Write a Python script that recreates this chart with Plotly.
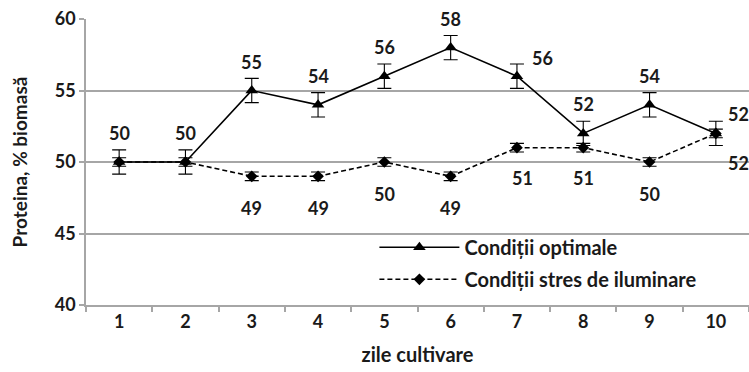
import plotly.graph_objects as go

days = ["1", "2", "3", "4", "5", "6", "7", "8", "9", "10"]
optimal = [50, 50, 55, 54, 56, 58, 56, 52, 54, 52]
stress = [50, 50, 49, 49, 50, 49, 51, 51, 50, 52]
optimal_err = [0.85] * 10
stress_err = [0.3] * 10

# data-label placement (pixels); stress labels of days 1-2 hidden (overlap in original)
opt_dx = [0, 0, 0, 0, 0, 0, 26, 0, 0, 23]
opt_dy = [29, 29, 29, 29, 29, 29, 18, 29, 29, 19]
str_dx = [0, 0, 0, 0, 0, 0, 6, 0, 0, 23]
str_dy = [-32, -32, -32, -32, -32, -32, -30, -30, -32, -30]
str_show = [False, False, True, True, True, True, True, True, True, True]

FONT = "Lato"
GRID = "#a6a6a6"
TXT = "#1a1a1a"

fig = go.Figure()
fig.add_trace(go.Scatter(
    x=days, y=optimal, mode="lines+markers", name="Condiții optimale", legendgroup="a",
    line=dict(color="black", width=1.6),
    marker=dict(symbol="triangle-up", size=11, color="black"),
    error_y=dict(type="data", array=optimal_err, color="black", thickness=1.1, width=7),
))
fig.add_trace(go.Scatter(
    x=days, y=stress, mode="lines+markers", name="Condiții stres de iluminare", legendgroup="b",
    line=dict(color="black", width=1.6, dash="5px,3px"),
    marker=dict(symbol="diamond", size=9, color="black"),
    error_y=dict(type="data", array=stress_err, color="black", thickness=1.1, width=7),
))

annos = []
for i, d in enumerate(days):
    annos.append(dict(x=i, y=optimal[i], xref="x", yref="y", text=str(optimal[i]),
                      showarrow=False, xshift=opt_dx[i], yshift=opt_dy[i],
                      font=dict(family=FONT, size=18, color=TXT, weight="bold")))
    if str_show[i]:
        annos.append(dict(x=i, y=stress[i], xref="x", yref="y", text=str(stress[i]),
                          showarrow=False, xshift=str_dx[i], yshift=str_dy[i],
                          font=dict(family=FONT, size=18, color=TXT, weight="bold")))

fig.update_layout(
    width=749, height=372,
    margin=dict(l=86, r=0, t=19, b=67),
    paper_bgcolor="white", plot_bgcolor="white",
    font=dict(family=FONT, size=17, color=TXT, weight="bold"),
    annotations=annos,
    showlegend=True,
    legend=dict(x=0.435, y=0.27, xanchor="left", yanchor="top",
                bgcolor="rgba(0,0,0,0)", itemwidth=80, tracegroupgap=3,
                font=dict(family=FONT, size=20, color=TXT, weight="bold")),
    xaxis=dict(type="category", showgrid=False, showline=True, linecolor=GRID, linewidth=1.5,
               ticks="outside", tickson="boundaries", ticklen=5, tickcolor=GRID, tickwidth=1.5,
               tickfont=dict(family=FONT, size=18, color=TXT, weight="bold"),
               title=dict(text="zile cultivare", standoff=17,
                          font=dict(family=FONT, size=20, color=TXT, weight="bold")),
               range=[-0.5, 9.5]),
    yaxis=dict(range=[40, 60], dtick=5, showgrid=True, gridcolor=GRID, gridwidth=1.5,
               showline=True, linecolor=GRID, linewidth=1.5, zeroline=False,
               ticks="outside", ticklen=5, tickcolor=GRID, tickwidth=1.5,
               tickfont=dict(family=FONT, size=18, color=TXT, weight="bold"),
               title=dict(text="Proteina, % biomasă", standoff=22,
                          font=dict(family=FONT, size=19, color=TXT, weight="bold"))),
)

fig.write_html("out.html")
